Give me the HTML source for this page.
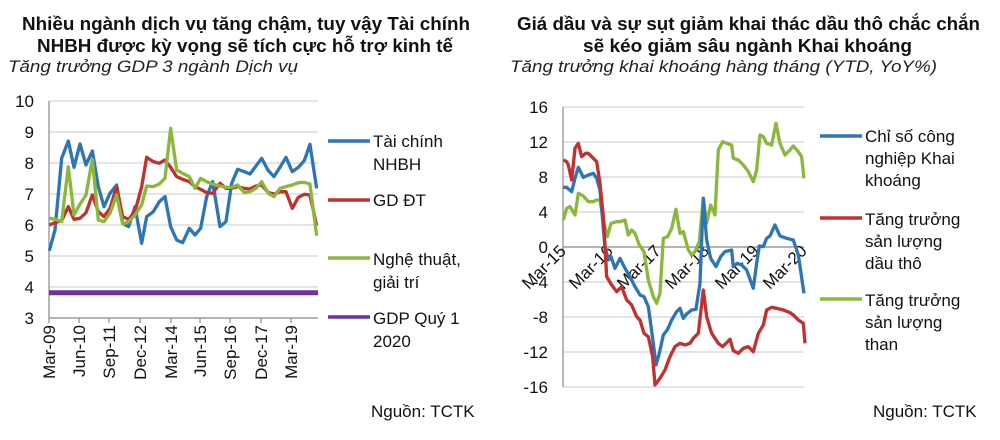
<!DOCTYPE html>
<html><head><meta charset="utf-8"><style>
body{margin:0;background:#fff}
svg{display:block;font-family:"Liberation Sans",sans-serif}
</style></head><body>
<svg width="1000" height="440" viewBox="0 0 1000 440" xmlns="http://www.w3.org/2000/svg">
<g font-weight="bold" font-size="18" fill="#111">
<text x="22" y="30" textLength="448" lengthAdjust="spacingAndGlyphs">Nhiều ngành dịch vụ tăng chậm, tuy vậy Tài chính</text>
<text x="37" y="52" textLength="416" lengthAdjust="spacingAndGlyphs">NHBH được kỳ vọng sẽ tích cực hỗ trợ kinh tế</text>
<text x="517" y="30" textLength="463" lengthAdjust="spacingAndGlyphs">Giá dầu và sự sụt giảm khai thác dầu thô chắc chắn</text>
<text x="583" y="52" textLength="329" lengthAdjust="spacingAndGlyphs">sẽ kéo giảm sâu ngành Khai khoáng</text>
</g>
<g font-style="italic" font-size="17" fill="#222">
<text x="8" y="72" textLength="290" lengthAdjust="spacingAndGlyphs">Tăng trưởng GDP 3 ngành Dịch vụ</text>
<text x="510" y="72" textLength="427" lengthAdjust="spacingAndGlyphs">Tăng trưởng khai khoáng hàng tháng (YTD, YoY%)</text>
</g>
<!-- Left chart -->
<g stroke="#d4d4d4" stroke-width="1.2">
<line x1="49" x2="318" y1="101" y2="101"/><line x1="49" x2="318" y1="132" y2="132"/><line x1="49" x2="318" y1="163" y2="163"/><line x1="49" x2="318" y1="194" y2="194"/><line x1="49" x2="318" y1="225" y2="225"/><line x1="49" x2="318" y1="256" y2="256"/><line x1="49" x2="318" y1="287" y2="287"/>
</g>
<g stroke="#888" stroke-width="1.2">
<line x1="49" x2="49" y1="101" y2="318"/><line x1="49" x2="318" y1="318" y2="318"/>
<line x1="49" x2="49" y1="318" y2="323"/><line x1="79" x2="79" y1="318" y2="323"/><line x1="109" x2="109" y1="318" y2="323"/><line x1="140" x2="140" y1="318" y2="323"/><line x1="171" x2="171" y1="318" y2="323"/><line x1="200" x2="200" y1="318" y2="323"/><line x1="230" x2="230" y1="318" y2="323"/><line x1="261" x2="261" y1="318" y2="323"/><line x1="291" x2="291" y1="318" y2="323"/>
</g>
<g font-size="17" text-anchor="end" fill="#111">
<text x="34" y="107">10</text><text x="34" y="138">9</text><text x="34" y="169">8</text><text x="34" y="200">7</text><text x="34" y="231">6</text><text x="34" y="262">5</text><text x="34" y="293">4</text><text x="34" y="324">3</text>
</g>
<g font-size="17" text-anchor="end" fill="#111">
<text transform="translate(55,325) rotate(-90)">Mar-09</text>
<text transform="translate(85,325) rotate(-90)">Jun-10</text>
<text transform="translate(115,325) rotate(-90)">Sep-11</text>
<text transform="translate(146,325) rotate(-90)">Dec-12</text>
<text transform="translate(177,325) rotate(-90)">Mar-14</text>
<text transform="translate(206,325) rotate(-90)">Jun-15</text>
<text transform="translate(236,325) rotate(-90)">Sep-16</text>
<text transform="translate(267,325) rotate(-90)">Dec-17</text>
<text transform="translate(297,325) rotate(-90)">Mar-19</text>
</g>
<line x1="49" x2="318" y1="292.7" y2="292.7" stroke="#7030a0" stroke-width="5"/>
<g transform="translate(0,80) scale(0.3333)" fill="none" stroke-width="10" stroke-linejoin="round">
<polyline stroke="#2e75b6" points="148,512 165,450 185,235 205,183 222,262 240,192 258,255 277,213 295,320 312,380 330,340 350,315 368,430 386,440 405,380 425,490 440,410 460,395 478,365 495,350 512,440 530,480 548,488 568,445 585,465 602,445 620,350 638,305 660,440 678,425 695,310 713,268 733,275 750,282 768,258 785,235 805,272 822,290 840,262 858,232 877,275 895,262 913,242 930,193 950,325"/>
<polyline stroke="#c0312f" points="148,435 165,428 185,422 205,380 222,418 240,415 258,398 277,345 295,395 312,410 330,385 350,320 368,410 386,418 405,395 425,320 440,232 460,245 478,250 495,240 512,262 530,290 548,298 568,305 585,320 602,328 620,338 638,340 660,310 678,325 695,325 713,320 733,325 750,327 768,318 785,315 805,338 822,342 840,335 858,335 877,385 895,352 913,343 930,345 950,437"/>
<polyline stroke="#8cb73f" points="148,415 165,418 185,425 205,260 222,405 240,372 258,345 277,238 295,420 312,425 330,400 350,345 368,432 386,425 405,405 425,375 440,318 460,320 478,312 495,295 512,145 530,270 548,280 568,290 585,325 602,295 620,305 638,312 660,318 678,322 695,322 713,315 733,338 750,335 768,325 785,305 805,340 822,350 840,325 858,320 877,315 895,308 913,307 930,312 950,467"/>
</g>
<g stroke-width="3.5">
<line x1="328" x2="370" y1="141" y2="141" stroke="#2e75b6"/>
<line x1="328" x2="370" y1="200" y2="200" stroke="#c0312f"/>
<line x1="328" x2="370" y1="258" y2="258" stroke="#8cb73f"/>
<line x1="328" x2="370" y1="317" y2="317" stroke="#7030a0"/>
</g>
<g font-size="17" fill="#111">
<text x="373" y="147">Tài chính</text><text x="373" y="170">NHBH</text>
<text x="373" y="206">GD ĐT</text>
<text x="373" y="265">Nghệ thuật,</text><text x="373" y="288">giải trí</text>
<text x="373" y="324">GDP Quý 1</text><text x="373" y="347">2020</text>
<text x="371" y="417">Nguồn: TCTK</text>
</g>
<!-- Right chart -->
<g stroke="#d4d4d4" stroke-width="1.2">
<line x1="563" x2="804" y1="107" y2="107"/><line x1="563" x2="804" y1="142" y2="142"/><line x1="563" x2="804" y1="177" y2="177"/><line x1="563" x2="804" y1="212" y2="212"/><line x1="563" x2="804" y1="282" y2="282"/><line x1="563" x2="804" y1="317" y2="317"/><line x1="563" x2="804" y1="352" y2="352"/><line x1="563" x2="804" y1="387" y2="387"/>
</g>
<g stroke="#888" stroke-width="1.2">
<line x1="563" x2="563" y1="107" y2="387"/><line x1="563" x2="804" y1="247" y2="247"/>
</g>
<g font-size="17" text-anchor="end" fill="#111">
<text x="548" y="113">16</text><text x="548" y="148">12</text><text x="548" y="183">8</text><text x="548" y="218">4</text><text x="548" y="253">0</text><text x="548" y="288">-4</text><text x="548" y="323">-8</text><text x="548" y="358">-12</text><text x="548" y="393">-16</text>
</g>
<g font-size="17" text-anchor="end" fill="#111">
<text transform="translate(567,252) rotate(-45)">Mar-15</text>
<text transform="translate(614,252) rotate(-45)">Mar-16</text>
<text transform="translate(662,252) rotate(-45)">Mar-17</text>
<text transform="translate(710,252) rotate(-45)">Mar-18</text>
<text transform="translate(760,252) rotate(-45)">Mar-19</text>
<text transform="translate(808,252) rotate(-45)">Mar-20</text>
</g>
<g transform="translate(500,90) scale(0.3333)" fill="none" stroke-width="10" stroke-linejoin="round">
<polyline stroke="#8cb73f" points="190,390 200,355 210,350 225,375 235,310 250,318 265,335 280,335 290,330 300,330 310,390 322,440 333,400 350,395 360,395 375,390 385,435 395,420 405,430 418,465 432,485 445,570 460,620 470,640 480,610 490,445 503,440 515,415 528,358 540,430 550,425 565,480 575,495 585,485 598,455 610,325 620,400 632,345 645,375 655,180 668,155 685,162 695,165 700,205 715,210 730,225 745,245 760,275 770,240 780,135 790,140 800,160 815,165 828,100 840,160 855,195 870,180 880,168 895,185 905,200 912,265"/>
<polyline stroke="#2e75b6" points="190,292 200,292 215,305 225,265 235,232 250,262 265,255 280,250 290,265 300,300 315,470 325,510 333,500 345,535 360,505 375,535 390,560 405,590 420,615 432,620 445,650 458,745 468,825 478,790 490,735 503,718 515,690 530,665 540,655 550,685 560,672 575,660 588,658 600,580 610,325 620,450 632,505 648,530 662,500 675,485 695,480 700,530 712,520 725,525 740,540 760,595 770,520 778,468 790,470 800,445 810,438 825,405 840,438 860,445 880,450 895,495 912,610"/>
<polyline stroke="#c0312f" points="190,210 200,215 205,225 215,270 225,175 235,160 245,200 257,190 265,190 280,205 290,215 300,280 310,380 320,560 335,585 350,605 365,590 380,630 395,645 410,680 420,690 432,730 445,740 458,800 465,885 480,865 495,840 510,800 525,770 540,760 555,765 570,760 580,745 595,730 610,600 620,680 635,730 655,760 668,770 690,748 700,782 715,790 730,775 745,770 760,785 775,730 790,705 800,660 815,652 830,655 850,660 870,668 880,675 895,690 910,700 915,760"/>
</g>
<g stroke-width="3.5">
<line x1="820" x2="862" y1="136" y2="136" stroke="#2e75b6"/>
<line x1="820" x2="862" y1="218" y2="218" stroke="#c0312f"/>
<line x1="820" x2="862" y1="299" y2="299" stroke="#8cb73f"/>
</g>
<g font-size="17" fill="#111">
<text x="865" y="142">Chỉ số công</text><text x="865" y="164">nghiệp Khai</text><text x="865" y="186">khoáng</text>
<text x="865" y="225">Tăng trưởng</text><text x="865" y="247">sản lượng</text><text x="865" y="269">dầu thô</text>
<text x="865" y="306">Tăng trưởng</text><text x="865" y="328">sản lượng</text><text x="865" y="350">than</text>
<text x="873" y="417">Nguồn: TCTK</text>
</g>
</svg>
</body></html>
